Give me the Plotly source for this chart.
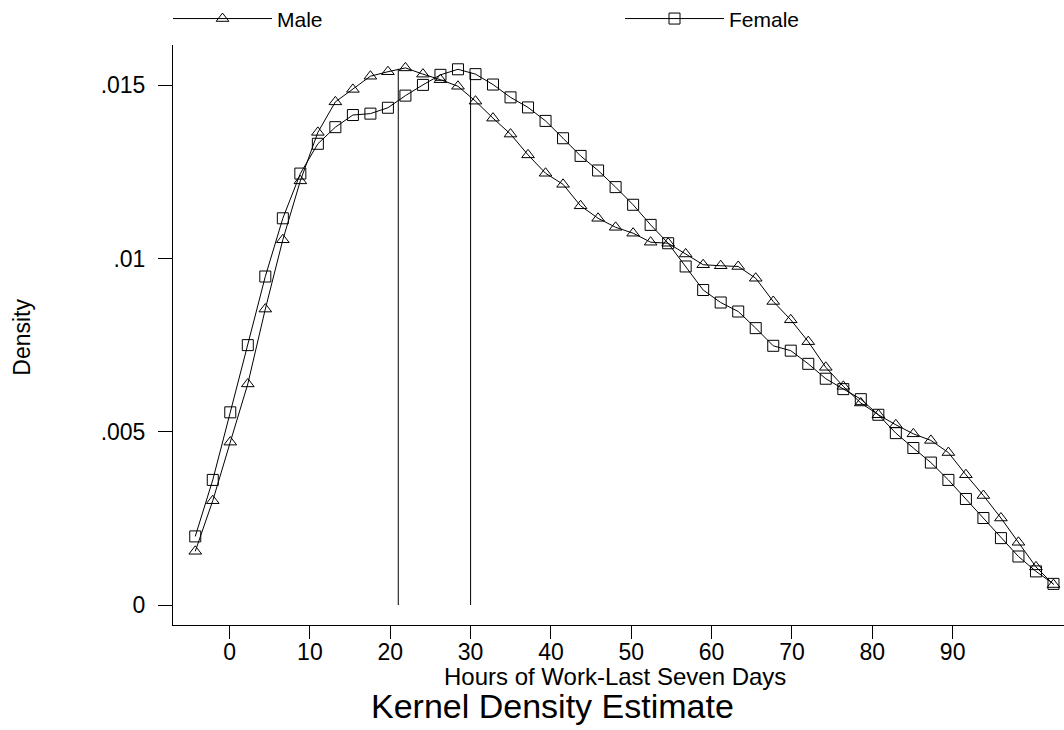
import plotly.graph_objects as go

# Evaluation points (hours) of the kernel density estimate
hours = [-4.27, -2.09, 0.09, 2.27, 4.45, 6.63, 8.81, 10.99, 13.17, 15.35,
         17.53, 19.71, 21.89, 24.07, 26.25, 28.43, 30.61, 32.79, 34.97, 37.15,
         39.33, 41.51, 43.69, 45.87, 48.05, 50.23, 52.41, 54.59, 56.77, 58.95,
         61.13, 63.31, 65.49, 67.67, 69.85, 72.03, 74.21, 76.39, 78.57, 80.75,
         82.93, 85.11, 87.29, 89.47, 91.65, 93.83, 96.01, 98.19, 100.37, 102.55]

male = [0.00155, 0.00301, 0.00470, 0.00638, 0.00854, 0.01054, 0.01224, 0.01364, 0.01452, 0.01488,
        0.01526, 0.01539, 0.01550, 0.01532, 0.01516, 0.01497, 0.01454, 0.01405, 0.01359, 0.01299,
        0.01246, 0.01214, 0.01152, 0.01116, 0.01090, 0.01073, 0.01047, 0.01044, 0.01013, 0.00982,
        0.00979, 0.00977, 0.00943, 0.00876, 0.00823, 0.00760, 0.00686, 0.00631, 0.00583, 0.00549,
        0.00520, 0.00494, 0.00475, 0.00440, 0.00376, 0.00316, 0.00251, 0.00181, 0.00110, 0.00059]

female = [0.00198, 0.00361, 0.00556, 0.00750, 0.00948, 0.01116, 0.01245, 0.01331, 0.01379, 0.01414,
          0.01418, 0.01435, 0.01470, 0.01501, 0.01530, 0.01546, 0.01532, 0.01502, 0.01465, 0.01436,
          0.01397, 0.01347, 0.01296, 0.01254, 0.01206, 0.01155, 0.01097, 0.01044, 0.00977, 0.00909,
          0.00873, 0.00847, 0.00799, 0.00748, 0.00734, 0.00696, 0.00653, 0.00623, 0.00594, 0.00549,
          0.00496, 0.00453, 0.00411, 0.00361, 0.00306, 0.00251, 0.00193, 0.00140, 0.00097, 0.00061]

# Vertical reference lines (hours) and their heights
ref_hours = [21, 30]
ref_top = [0.01547, 0.01538]

xtick_vals = [0, 10, 20, 30, 40, 50, 60, 70, 80, 90]
ytick_vals = [0, 0.005, 0.01, 0.015]
ytick_text = ["0", ".005", ".01", ".015"]

FONT = "Liberation Sans, Arial, sans-serif"

fig = go.Figure()
fig.add_trace(go.Scatter(
    x=hours, y=male, mode="lines+markers", name="Male",
    line=dict(color="black", width=1),
    marker=dict(symbol="triangle-up-open", size=11, color="black", line=dict(width=1)),
))
fig.add_trace(go.Scatter(
    x=hours, y=female, mode="lines+markers", name="Female",
    line=dict(color="black", width=1),
    marker=dict(symbol="square-open", size=11, color="black", line=dict(width=1)),
))
for h, t in zip(ref_hours, ref_top):
    fig.add_trace(go.Scatter(
        x=[h, h], y=[0, t], mode="lines", showlegend=False, hoverinfo="skip",
        line=dict(color="black", width=1),
    ))

fig.update_layout(
    width=1064, height=730,
    margin=dict(l=173, r=0, t=45, b=105, autoexpand=False),
    paper_bgcolor="white", plot_bgcolor="white",
    font=dict(family=FONT, size=21, color="black"),
    showlegend=True,
    legend=dict(
        orientation="h", x=-0.0056, xanchor="left", y=1.045, yanchor="middle",
        itemwidth=99, entrywidth=338, entrywidthmode="pixels",
        font=dict(family=FONT, size=21, color="black"),
        bgcolor="rgba(0,0,0,0)",
    ),
    xaxis=dict(
        range=[-7.04, 103.86], showline=True, linecolor="black", linewidth=1,
        ticks="outside", ticklen=13, tickcolor="black", tickwidth=1,
        tickvals=xtick_vals, showgrid=False, zeroline=False,
        tickfont=dict(family=FONT, size=23), ticklabelstandoff=-7,
    ),
    yaxis=dict(
        range=[-0.000577, 0.016161], showline=True, linecolor="black", linewidth=1,
        ticks="outside", ticklen=14, tickcolor="black", tickwidth=1,
        tickvals=ytick_vals, ticktext=ytick_text, showgrid=False, zeroline=False,
        tickfont=dict(family=FONT, size=23), ticklabelstandoff=8,
    ),
    annotations=[
        dict(text="Hours of Work-Last Seven Days", xref="paper", yref="paper",
             x=0.496, y=-0.0891, xanchor="center", yanchor="middle", showarrow=False,
             font=dict(family=FONT, size=24)),
        dict(text="Kernel Density Estimate", xref="paper", yref="paper",
             x=0.4254, y=-0.139, xanchor="center", yanchor="middle", showarrow=False,
             font=dict(family=FONT, size=34)),
        dict(text="Density", xref="paper", yref="paper", textangle=-90,
             x=-0.1695, y=0.497, xanchor="center", yanchor="middle", showarrow=False,
             font=dict(family=FONT, size=23)),
    ],
)

fig.write_html("out.html")
